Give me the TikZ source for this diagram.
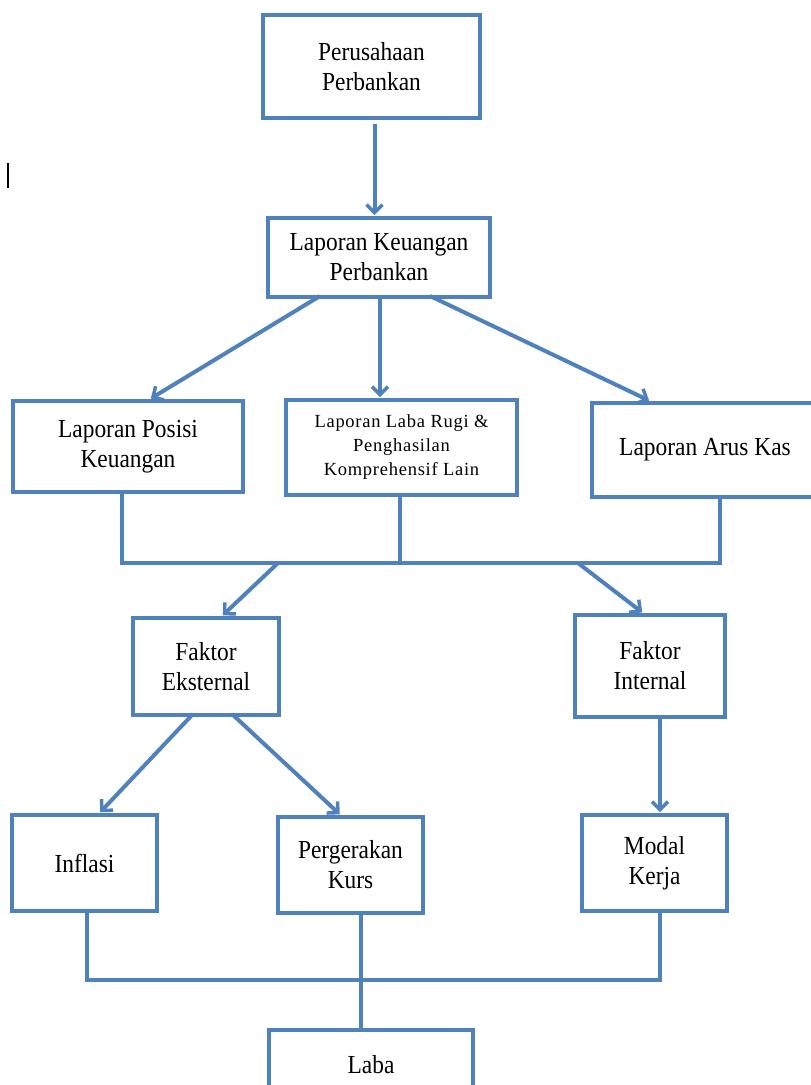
\documentclass[tikz,border=0pt]{standalone}
\usepackage{fontspec}
\setmainfont{Liberation Serif}
\newfontfamily\bigf[FakeStretch=0.9]{Liberation Serif}
\newfontfamily\smallf[LetterSpace=4]{Liberation Serif}
\usetikzlibrary{arrows.meta}
\definecolor{ob}{HTML}{4F81BD}
\tikzset{
  box/.style={draw=ob, line width=4pt, fill=white, align=center, inner sep=0pt,
    font=\bigf\fontsize{26}{30}\selectfont},
  conn/.style={draw=ob, line width=4pt},
  arr/.style={conn, -{Straight Barb[length=8pt,width=16pt,line width=3.5pt]}, shorten >=1pt},
}
\begin{document}
\begin{tikzpicture}[x=1pt,y=-1pt]
\useasboundingbox (0,0) rectangle (811,1085);
% cursor artifact
\draw[line width=2pt] (8,163) -- (8,188);

\node[box, minimum width=217pt, minimum height=103pt] (bank) at (371.5,66.5) {Perusahaan\\Perbankan};
\node[box, minimum width=222pt, minimum height=79pt] (lkp) at (379,257.5) {Laporan Keuangan\\Perbankan};
\node[box, minimum width=230pt, minimum height=91pt] (lpk) at (128,446.5) {Laporan Posisi\\Keuangan};
\node[box, minimum width=231pt, minimum height=95pt, font=\smallf\fontsize{18.5}{24}\selectfont] (llr) at (401.5,447.5) {Laporan Laba Rugi \&\\Penghasilan\\Komprehensif Lain};
\node[box, minimum width=226pt, minimum height=94pt] (lak) at (705,450) {Laporan Arus Kas};
\node[box, minimum width=146pt, minimum height=97pt] (fe) at (206,666.5) {Faktor\\Eksternal};
\node[box, minimum width=150pt, minimum height=102pt] (fi) at (650,666) {Faktor\\Internal};
\node[box, minimum width=145pt, minimum height=96pt] (inf) at (84.5,863) {Inflasi};
\node[box, minimum width=145pt, minimum height=96pt] (kurs) at (350.5,865) {Pergerakan\\Kurs};
\node[box, minimum width=145pt, minimum height=96pt] (mk) at (654.5,863) {Modal\\Kerja};
\node[box, minimum width=204pt, minimum height=70pt] (laba) at (371,1065) {Laba};

% arrows from top
\draw[arr] (bank.south) ++(3,4) coordinate (b1) -- (b1 |- lkp.north);
\coordinate (k1) at ([xshift=-59pt,yshift=3pt]lkp.south);
\coordinate (k2) at ([xshift=1pt,yshift=3pt]lkp.south);
\coordinate (k3) at ([xshift=51pt,yshift=3pt]lkp.south);
\draw[arr] (k1) -- ([xshift=22pt]lpk.north);
\draw[arr] (k2) -- (k2 |- llr.north);
\draw[arr] (k3) -- ([xshift=-55pt]lak.north);

% merge line
\coordinate (m1) at ([xshift=-6pt]lpk.south);
\coordinate (m3) at ([xshift=15pt]lak.south);
\draw[conn] (m1) -- (m1 |- 0,563) -- (m3 |- 0,563) -- (m3);
\draw[conn] ([xshift=-1.5pt]llr.south) -- ([xshift=-1.5pt]llr.south |- 0,563);
\coordinate (d1) at (278,563);
\coordinate (d2) at (578,563);
\draw[arr] (d1) -- ([xshift=16pt]fe.north);
\draw[arr] (d2) -- ([xshift=-7pt]fi.north);

% second level
\draw[arr] ([xshift=-13pt,yshift=3pt]fe.south) -- ([xshift=15pt]inf.north);
\draw[arr] ([xshift=26pt,yshift=3pt]fe.south) -- ([xshift=-10pt]kurs.north);
\draw[arr] ([xshift=10pt,yshift=2pt]fi.south) -- ([xshift=5.5pt]mk.north);

% bottom merge
\coordinate (n1) at ([xshift=2.5pt,yshift=4pt]inf.south);
\coordinate (n3) at ([xshift=5.5pt]mk.south);
\draw[conn] (n1) -- (n1 |- 0,980) -- (n3 |- 0,980) -- (n3);
\draw[conn] ([xshift=10pt]kurs.south) -- ([xshift=10pt]kurs.south |- laba.north);
\end{tikzpicture}
\end{document}
